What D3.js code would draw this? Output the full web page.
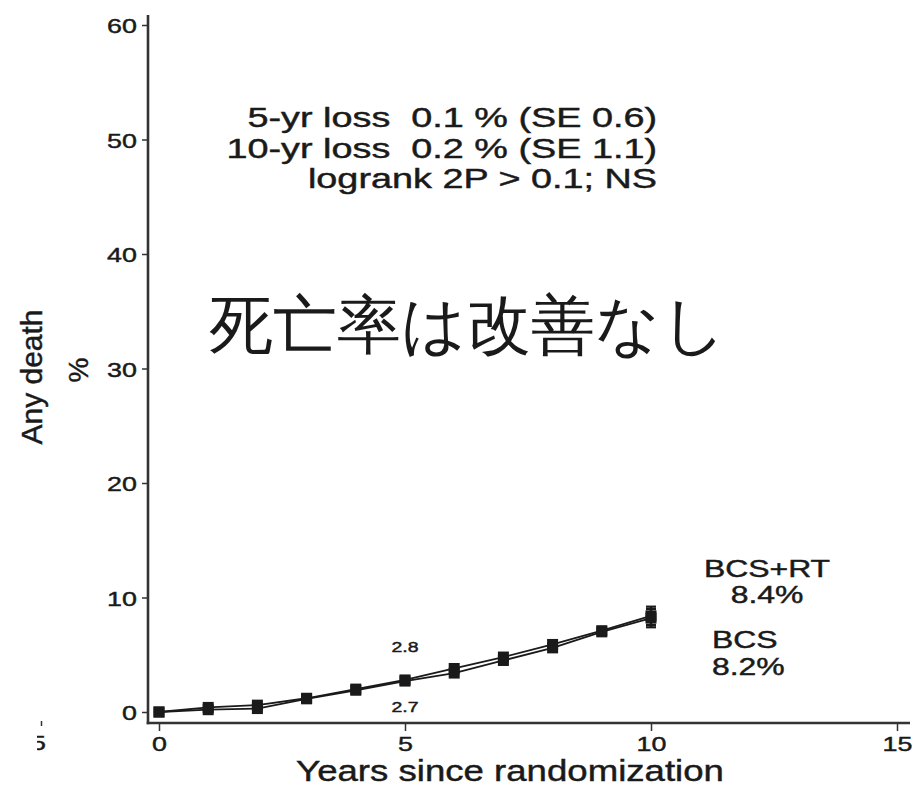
<!DOCTYPE html>
<html>
<head>
<meta charset="utf-8">
<script src="https://cdn.jsdelivr.net/npm/d3@7"></script>
<style>
  html, body { margin: 0; padding: 0; background: #fff; }
  svg { display: block; }
  text { font-family: "Liberation Sans", Arial, Helvetica, sans-serif; fill: #1a1a1a; white-space: pre; }
  .heavy { stroke: #1a1a1a; stroke-width: 0.45px; }
</style>
</head>
<body>
<svg id="chart" width="914" height="788"></svg>
<script>
// Cumulative any-death risk (%) by year since randomization
const years = [0, 1, 2, 3, 4, 5, 6, 7, 8, 9, 10];
const bcsRT = [0, 0.4, 0.6, 1.2, 2.0, 2.8, 3.8, 4.8, 5.9, 7.1, 8.4];
const bcs   = [0, 0.2, 0.3, 1.15, 1.9, 2.7, 3.4, 4.5, 5.6, 7.0, 8.2];
const errYear = 10;
const errHalf = 0.8;

const xTicks = [0, 5, 10, 15];
const yTicks = [0, 10, 20, 30, 40, 50, 60];

const statLines = [
  "5-yr loss  0.1 % (SE 0.6)",
  "10-yr loss  0.2 % (SE 1.1)",
  "logrank 2P > 0.1; NS"
];
const headline = "死亡率は改善なし";
const seriesLabels = [
  { name: "BCS+RT", value: "8.4%" },
  { name: "BCS", value: "8.2%" }
];
const fiveYearLabels = ["2.8", "2.7"];

const svg = d3.select("#chart");
const ink = "#1a1a1a";
const axisInk = "#333";

const x = d3.scaleLinear().domain([0, 15]).range([159, 897]);
const y = d3.scaleLinear().domain([0, 60]).range([712, 25]);

const axisX = 148, axisY = 723;

// text helper: horizontally widened glyphs
function label(parent, px, py, str, size, sx, anchor) {
  const g = parent.append("g").attr("transform", `translate(${px},${py}) scale(${sx},1)`);
  g.append("text")
    .attr("class", "heavy")
    .attr("font-size", size)
    .attr("text-anchor", anchor || "start")
    .text(str);
  return g;
}

// Axes
const gy = svg.append("g").attr("transform", `translate(${axisX},0)`)
  .call(d3.axisLeft(y).tickValues(yTicks).tickSize(6).tickSizeOuter(0).tickFormat(d3.format("d")));
gy.select(".domain").remove();
gy.selectAll(".tick line").attr("stroke", axisInk).attr("stroke-width", 1.5);
gy.selectAll(".tick text").each(function () {
  d3.select(this).attr("x", null).attr("dy", null)
    .attr("class", "heavy")
    .attr("font-size", 21).attr("font-family", "Liberation Sans, Arial, sans-serif")
    .attr("fill", ink).attr("text-anchor", "end")
    .attr("transform", "translate(-11,7.5) scale(1.28,1)");
});

const gx = svg.append("g").attr("transform", `translate(0,${axisY})`)
  .call(d3.axisBottom(x).tickValues(xTicks).tickSize(8).tickSizeOuter(0).tickFormat(d3.format("d")));
gx.select(".domain").remove();
gx.selectAll(".tick line").attr("stroke", axisInk).attr("stroke-width", 1.5);
gx.selectAll(".tick text").each(function () {
  d3.select(this).attr("y", null).attr("dy", null)
    .attr("class", "heavy")
    .attr("font-size", 21).attr("font-family", "Liberation Sans, Arial, sans-serif")
    .attr("fill", ink).attr("text-anchor", "middle")
    .attr("transform", "translate(0,27.5) scale(1.28,1)");
});

// axis lines
svg.append("line").attr("x1", axisX).attr("x2", axisX).attr("y1", 15).attr("y2", axisY + 1.2)
  .attr("stroke", axisInk).attr("stroke-width", 2.6);
svg.append("line").attr("x1", axisX - 1.3).attr("x2", 910).attr("y1", axisY).attr("y2", axisY)
  .attr("stroke", axisInk).attr("stroke-width", 2.6);

// neighbouring panel edge at far left
const clip = svg.append("defs").append("clipPath").attr("id", "leftEdge");
clip.append("rect").attr("x", 37).attr("y", 700).attr("width", 20).attr("height", 60);
const edge = svg.append("g").attr("clip-path", "url(#leftEdge)");
label(edge, 38.5, 750, "5", 21, 1.28, "middle");
svg.append("line").attr("x1", 41.5).attr("x2", 41.5).attr("y1", 721).attr("y2", 726)
  .attr("stroke", axisInk).attr("stroke-width", 1.5);

// Series
const line = d3.line().x((d, i) => x(years[i])).y(d => y(d));
[bcsRT, bcs].forEach(vals => {
  svg.append("path").datum(vals).attr("d", line)
    .attr("fill", "none").attr("stroke", ink).attr("stroke-width", 1.8);
});

// error bars at final year
const ei = years.indexOf(errYear);
[bcsRT[ei], bcs[ei]].forEach(v => {
  const cx = x(errYear);
  svg.append("line").attr("x1", cx).attr("x2", cx).attr("y1", y(v + errHalf)).attr("y2", y(v - errHalf))
    .attr("stroke", ink).attr("stroke-width", 2.2);
  [v + errHalf, v - errHalf].forEach(e => {
    svg.append("line").attr("x1", cx - 5).attr("x2", cx + 5).attr("y1", y(e)).attr("y2", y(e))
      .attr("stroke", ink).attr("stroke-width", 2.2);
  });
});

const ms = 11;
[bcsRT, bcs].forEach(vals => {
  svg.append("g").selectAll("rect").data(vals).join("rect")
    .attr("x", (d, i) => x(years[i]) - ms / 2)
    .attr("y", d => y(d) - ms / 2)
    .attr("width", ms).attr("height", ms)
    .attr("fill", ink);
});

// five-year values
label(svg, x(5), 652, fiveYearLabels[0], 15, 1.3, "middle");
label(svg, x(5), 712, fiveYearLabels[1], 15, 1.3, "middle");

// series end labels
label(svg, 767, 577, seriesLabels[0].name, 24, 1.33, "middle");
label(svg, 767, 603, seriesLabels[0].value, 24, 1.33, "middle");
label(svg, 712, 648, seriesLabels[1].name, 24, 1.33, "start");
label(svg, 712, 675, seriesLabels[1].value, 24, 1.33, "start");

// statistics block
statLines.forEach((s, i) => label(svg, 657, 127 + i * 30.5, s, 28, 1.35, "end"));

// headline
svg.append("text").attr("x", 209).attr("y", 347)
  .attr("font-family", "'Noto Sans CJK JP', sans-serif")
  .attr("font-size", 64)
  .attr("fill", "#111")
  .text(headline);

// axis titles
label(svg, 510, 781, "Years since randomization", 30, 1.22, "middle");
svg.append("text").attr("class", "heavy").attr("transform", "translate(42,377) rotate(-90)")
  .attr("font-size", 30).attr("text-anchor", "middle").text("Any death");
svg.append("text").attr("class", "heavy").attr("transform", "translate(88,370) rotate(-90)")
  .attr("font-size", 28).attr("text-anchor", "middle").text("%");
</script>
</body>
</html>
